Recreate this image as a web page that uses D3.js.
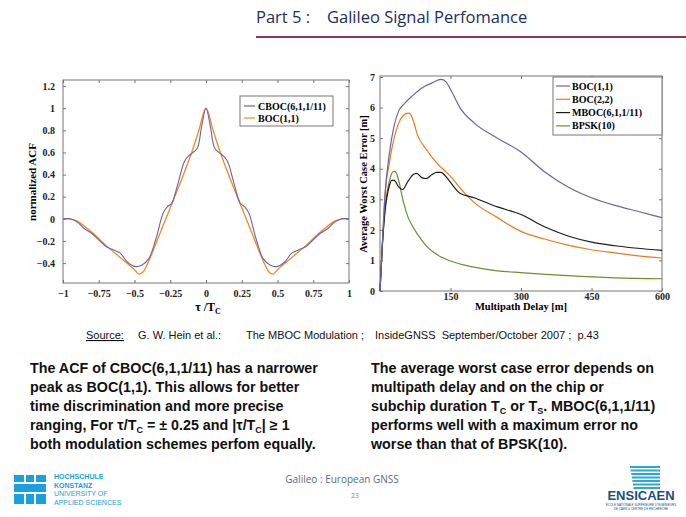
<!DOCTYPE html>
<html><head><meta charset="utf-8">
<script src="https://cdn.jsdelivr.net/npm/d3@7"></script>
<style>body{margin:0;background:#fff}svg{display:block}text{white-space:pre}</style>
</head><body>
<svg id="s" width="686" height="517"></svg>
<script>
// Left chart data: normalized ACF
const acfTicksX = [-1,-0.75,-0.5,-0.25,0,0.25,0.5,0.75,1];
const acfTicksY = [-0.4,-0.2,0,0.2,0.4,0.6,0.8,1,1.2];
const bocTau = [-1,-0.95,-0.9,-0.8,-0.7,-0.6,-0.5,-0.47,-0.44,-0.4,-0.3,-0.2,-0.1,-0.05,0,0.05,0.1,0.2,0.3,0.4,0.44,0.47,0.5,0.6,0.7,0.8,0.9,0.95,1];
const bocAcf = [0,0,-0.02,-0.12,-0.24,-0.35,-0.46,-0.5,-0.48,-0.38,-0.06,0.26,0.6,0.8,1,0.8,0.6,0.26,-0.06,-0.38,-0.48,-0.5,-0.46,-0.35,-0.24,-0.12,-0.02,0,0];
const cbocTau = [-1,-0.95,-0.9,-0.85,-0.8,-0.75,-0.7,-0.65,-0.6,-0.55,-0.5,-0.45,-0.4,-0.35,-0.3,-0.27,-0.24,-0.2,-0.15,-0.12,-0.09,-0.06,-0.03,0,0.03,0.06,0.09,0.12,0.15,0.2,0.24,0.27,0.3,0.35,0.4,0.45,0.5,0.55,0.6,0.65,0.7,0.75,0.8,0.85,0.9,0.95,1];
const cbocAcf = [0,0,-0.03,-0.09,-0.13,-0.19,-0.25,-0.28,-0.31,-0.39,-0.43,-0.42,-0.36,-0.18,0.05,0.11,0.14,0.3,0.52,0.57,0.6,0.64,0.84,1,0.84,0.64,0.6,0.57,0.52,0.3,0.14,0.11,0.05,-0.18,-0.36,-0.42,-0.43,-0.39,-0.31,-0.28,-0.25,-0.19,-0.13,-0.09,-0.03,0,0];

// Right chart data: average worst case error [m]
const errTicksX = [150,300,450,600];
const errTicksY = [0,1,2,3,4,5,6,7];
const boc11X = [0,5,10,20,30,40,50,70,90,110,130,140,150,170,200,250,300,350,400,450,500,550,600];
const boc11Y = [0,1.5,3,4.5,5.4,5.9,6.1,6.4,6.65,6.8,6.92,6.85,6.6,6.0,5.5,5.0,4.55,3.9,3.4,3.05,2.8,2.6,2.4];
const boc22X = [0,5,10,20,30,40,50,60,65,70,80,100,120,150,180,200,250,300,350,400,450,500,550,600];
const boc22Y = [0,1.5,3,4.2,5,5.5,5.75,5.82,5.78,5.6,5.1,4.6,4.2,3.75,3.2,2.9,2.4,1.95,1.7,1.5,1.35,1.25,1.15,1.08];
const mbocX = [0,5,10,20,25,30,40,48,60,70,78,90,98,110,120,130,140,150,170,200,250,300,350,400,450,500,600];
const mbocY = [0,1.5,2.5,3.45,3.62,3.62,3.4,3.32,3.6,3.8,3.85,3.7,3.68,3.8,3.88,3.88,3.75,3.55,3.2,3.05,2.75,2.5,2.1,1.8,1.6,1.48,1.33];
const bpskX = [0,5,10,20,30,35,40,50,60,70,80,100,120,150,200,250,300,400,500,600];
const bpskY = [0,1.5,2.6,3.6,3.92,3.85,3.6,2.9,2.4,2.1,1.85,1.45,1.2,0.98,0.78,0.66,0.6,0.5,0.43,0.4];

const svg = d3.select("#s");
const serif = "'Liberation Serif','DejaVu Serif',serif";
const sans = "'Liberation Sans',Arial,sans-serif";

// header
const ht = svg.append("text").attr("y",23).attr("font-family","'Open Sans',sans-serif").attr("font-size",16.5).attr("fill","#1f2d5c");
ht.append("tspan").attr("x",256).text("Part 5 :");
ht.append("tspan").attr("x",327).text("Galileo Signal Perfomance");
svg.append("rect").attr("x",256).attr("y",36).attr("width",430).attr("height",2).attr("fill","#8b3a5e");

function frame(g,x0,y0,w,h){
  g.append("rect").attr("x",x0).attr("y",y0).attr("width",w).attr("height",h).attr("fill","none").attr("stroke","#777").attr("stroke-width",1);
}

// LEFT chart
const L = {x0:63,x1:349,y0:80,y1:283};
const lx = d3.scaleLinear().domain([-1,1]).range([L.x0,L.x1]);
const ly = d3.scaleLinear().domain([-0.58,1.255]).range([L.y1,L.y0]);
const gl = svg.append("g");
frame(gl,L.x0,L.y0,L.x1-L.x0,L.y1-L.y0);
gl.append("g").attr("transform",`translate(${L.x0},0)`).call(d3.axisLeft(ly).tickValues(acfTicksY).tickSize(-3).tickPadding(8).tickFormat(d=>d3.format("~g")(d)));
gl.append("g").attr("transform",`translate(0,${L.y1})`).call(d3.axisBottom(lx).tickValues(acfTicksX).tickSize(-3).tickPadding(7).tickFormat(d=>d3.format("~g")(d)));
gl.append("g").attr("transform",`translate(${L.x1},0)`).call(d3.axisRight(ly).tickValues(acfTicksY).tickSize(-3).tickFormat(""));
gl.append("g").attr("transform",`translate(0,${L.y0})`).call(d3.axisTop(lx).tickValues(acfTicksX).tickSize(-3).tickFormat(""));
gl.selectAll(".domain").remove();
gl.selectAll(".tick line").attr("stroke","#777");
gl.selectAll(".tick text").attr("font-family",serif).attr("font-weight","bold").attr("font-size",10).attr("fill","#222");
const line1 = d3.line().curve(d3.curveCatmullRom.alpha(0.5));
gl.append("path").attr("d",line1(bocTau.map((t,i)=>[lx(t),ly(bocAcf[i])]))).attr("fill","none").attr("stroke","#f08a24").attr("stroke-width",1.3);
gl.append("path").attr("d",line1(cbocTau.map((t,i)=>[lx(t),ly(cbocAcf[i])]))).attr("fill","none").attr("stroke","#6a64a8").attr("stroke-width",1.1);
gl.append("text").attr("transform","translate(36,182) rotate(-90)").attr("text-anchor","middle").attr("font-family",serif).attr("font-weight","bold").attr("font-size",11).text("normalized ACF");
const xl = gl.append("text").attr("x",208).attr("y",311).attr("text-anchor","middle").attr("font-family",serif).attr("font-weight","bold").attr("font-size",12);
xl.append("tspan").text("τ /T");
xl.append("tspan").attr("font-size",8).attr("dy",3).text("C");
gl.append("rect").attr("x",240).attr("y",96).attr("width",93).attr("height",30).attr("fill","#fff").attr("stroke","#777");
[["CBOC(6,1,1/11)","#6a64a8"],["BOC(1,1)","#f08a24"]].forEach((d,i)=>{
  const y=106+i*12;
  gl.append("line").attr("x1",244).attr("x2",255).attr("y1",y).attr("y2",y).attr("stroke",d[1]).attr("stroke-width",1.2);
  gl.append("text").attr("x",258).attr("y",y+3.5).attr("font-family",serif).attr("font-weight","bold").attr("font-size",10).text(d[0]);
});

// RIGHT chart
const R = {x0:380,x1:662,y0:76,y1:291};
const rx = d3.scaleLinear().domain([0,600]).range([R.x0,R.x1]);
const ry = d3.scaleLinear().domain([0,7]).range([R.y1,77]);
const gr = svg.append("g");
frame(gr,R.x0,R.y0,R.x1-R.x0,R.y1-R.y0);
gr.append("g").attr("transform",`translate(${R.x0},0)`).call(d3.axisLeft(ry).tickValues(errTicksY).tickSize(-3).tickPadding(5).tickFormat(d3.format("d")));
gr.append("g").attr("transform",`translate(0,${R.y1})`).call(d3.axisBottom(rx).tickValues(errTicksX).tickSize(-3).tickPadding(2));
gr.append("g").attr("transform",`translate(${R.x1},0)`).call(d3.axisRight(ry).tickValues(errTicksY).tickSize(-3).tickFormat(""));
gr.append("g").attr("transform",`translate(0,${R.y0})`).call(d3.axisTop(rx).tickValues(errTicksX).tickSize(-3).tickFormat(""));
gr.selectAll(".domain").remove();
gr.selectAll(".tick line").attr("stroke","#777");
gr.selectAll(".tick text").attr("font-family",serif).attr("font-weight","bold").attr("font-size",10).attr("fill","#222");
const line2 = d3.line().curve(d3.curveMonotoneX);
[[bpskX,bpskY,"#6b8f2f"],[boc22X,boc22Y,"#f07a1a"],[mbocX,mbocY,"#1a1a1a"],[boc11X,boc11Y,"#6a64a8"]].forEach(s=>{
  gr.append("path").attr("d",line2(s[0].map((x,i)=>[rx(x),ry(s[1][i])]))).attr("fill","none").attr("stroke",s[2]).attr("stroke-width",1.2);
});
gr.append("text").attr("transform","translate(367,184) rotate(-90)").attr("text-anchor","middle").attr("font-family",serif).attr("font-weight","bold").attr("font-size",10.5).text("Average Worst Case Error [m]");
gr.append("text").attr("x",521).attr("y",310).attr("text-anchor","middle").attr("font-family",serif).attr("font-weight","bold").attr("font-size",10.5).text("Multipath Delay [m]");
gr.append("rect").attr("x",553).attr("y",77).attr("width",109).attr("height",58).attr("fill","#fff").attr("stroke","#777");
[["BOC(1,1)","#6a64a8"],["BOC(2,2)","#f07a1a"],["MBOC(6,1,1/11)","#1a1a1a"],["BPSK(10)","#6b8f2f"]].forEach((d,i)=>{
  const y=86+i*13.3;
  gr.append("line").attr("x1",556).attr("x2",570).attr("y1",y).attr("y2",y).attr("stroke",d[1]).attr("stroke-width",1.2);
  gr.append("text").attr("x",572).attr("y",y+3.5).attr("font-family",serif).attr("font-weight","bold").attr("font-size",10).text(d[0]);
});

// source line
const src = svg.append("text").attr("y",339).attr("font-family",sans).attr("font-size",11).attr("fill","#111");
src.append("tspan").attr("x",86).attr("text-decoration","underline").text("Source:");
src.append("tspan").attr("x",138).text("G. W. Hein et al.:");
src.append("tspan").attr("x",246).text("The MBOC Modulation ;");
src.append("tspan").attr("x",375).text("InsideGNSS  September/October 2007 ;  p.43");

function para(x,lines){
  lines.forEach((l,i)=>{
    const t=svg.append("text").attr("x",x).attr("y",373+i*19).attr("font-family",sans).attr("font-weight","bold").attr("font-size",14.3).attr("fill","#111");
    l.forEach(p=>{const s=t.append("tspan").text(p[0]); if(p[1]==="sub") s.attr("font-size",9).attr("dy",3); if(p[1]==="up") s.attr("dy",-3);});
  });
}
para(30,[[["The ACF of CBOC(6,1,1/11) has a narrower"]],[["peak as BOC(1,1). This allows for better"]],[["time discrimination and more precise"]],
 [["ranging, For τ/T"],["C","sub"],[" = ± 0.25 and |τ/T","up"],["C","sub"],["| ≥ 1","up"]],[["both modulation schemes perfom equally."]]]);
para(371,[[["The average worst case error depends on"]],[["multipath delay and on the chip or"]],
 [["subchip duration T"],["C","sub"],[" or T","up"],["S","sub"],[". MBOC(6,1,1/11)","up"]],[["performs well with a maximum error no"]],[["worse than that of BPSK(10)."]]]);

// footer
svg.append("text").attr("x",342).attr("y",483).attr("text-anchor","middle").attr("font-family","'Open Sans',sans-serif").attr("font-size",10).attr("fill","#5a6a8a").text("Galileo : European GNSS");
svg.append("text").attr("x",355).attr("y",498).attr("text-anchor","middle").attr("font-family","'Open Sans',sans-serif").attr("font-size",7).attr("fill","#888").text("23");
const lg = svg.append("g").attr("fill","#1aa0dc");
[[14,475,10,7],[26,475,8,7],[36,475,10,7],[14,484,32,8],[14,494,10,10],[26,494,8,10],[36,494,10,10]].forEach(r=>lg.append("rect").attr("x",r[0]).attr("y",r[1]).attr("width",r[2]).attr("height",r[3]));
["HOCHSCHULE","KONSTANZ"].forEach((t,i)=>svg.append("text").attr("x",54).attr("y",479+i*8.5).attr("font-family",sans).attr("font-weight","bold").attr("font-size",7).attr("fill","#1aa0dc").text(t));
["UNIVERSITY OF","APPLIED SCIENCES"].forEach((t,i)=>svg.append("text").attr("x",54).attr("y",496+i*8.5).attr("font-family",sans).attr("font-size",7).attr("fill","#1aa0dc").text(t));
for(let i=0;i<7;i++) svg.append("rect").attr("x",630+i*0.6).attr("y",466+i*3.5).attr("width",30-i*0.6).attr("height",2).attr("fill","#29a8e0");
svg.append("text").attr("x",641).attr("y",500).attr("text-anchor","middle").attr("font-family",sans).attr("font-weight","bold").attr("font-size",13).attr("fill","#1a4f8a").text("ENSICAEN");
svg.append("text").attr("x",641).attr("y",506).attr("text-anchor","middle").attr("font-family",sans).attr("font-size",3).attr("fill","#1a4f8a").text("ÉCOLE NATIONALE SUPÉRIEURE D'INGÉNIEURS");
svg.append("text").attr("x",641).attr("y",510).attr("text-anchor","middle").attr("font-family",sans).attr("font-size",3).attr("fill","#1a4f8a").text("DE CAEN & CENTRE DE RECHERCHE");
</script>
</body></html>
